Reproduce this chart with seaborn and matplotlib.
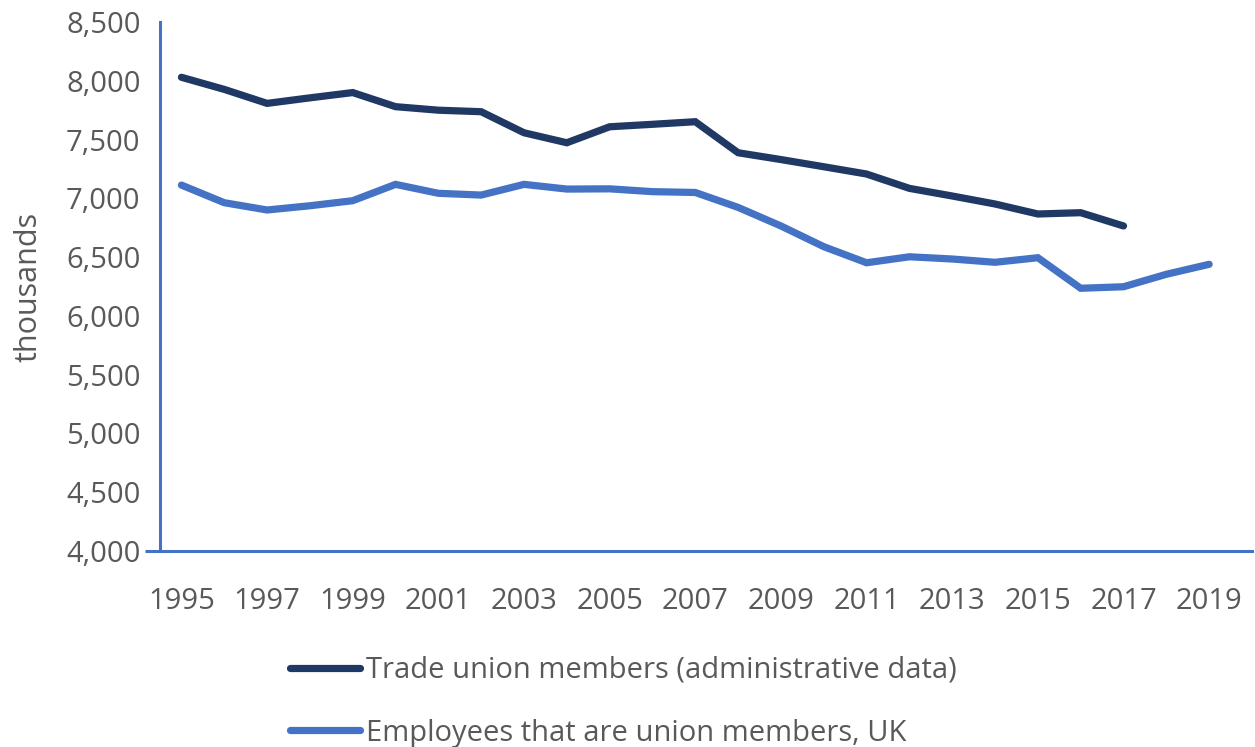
import numpy as np
import pandas as pd
import matplotlib.pyplot as plt
import seaborn as sns

# Data (thousands)
years = list(range(1995, 2020))
admin_members = [8030, 7927, 7808, 7855, 7900, 7780, 7750, 7737, 7558, 7473,
                 7609, 7630, 7652, 7388, 7330, 7269, 7207, 7085, 7020, 6952,
                 6867, 6878, 6765, np.nan, np.nan]
employee_members = [7113, 6963, 6901, 6937, 6980, 7119, 7043, 7028, 7119, 7079,
                    7081, 7057, 7050, 6923, 6765, 6589, 6452, 6503, 6484, 6456,
                    6495, 6235, 6248, 6354, 6439]
series_names = ['Trade union members (administrative data)',
                'Employees that are union members, UK']
xtick_years = list(range(1995, 2020, 2))
yticks = list(range(4000, 8501, 500))

df = pd.DataFrame({'year': years,
                   series_names[0]: admin_members,
                   series_names[1]: employee_members})
long = df.melt(id_vars='year', var_name='series', value_name='value').dropna()

sns.set_style('white')
plt.rcParams['font.family'] = ['Open Sans', 'DejaVu Sans']

blue = '#4472C4'
navy = '#1F3864'
grey = '#595959'

fig = plt.figure(figsize=(12.55, 7.47), dpi=100)
ax = fig.add_axes([0.1275, 0.2624, 0.8701, 0.7081])

sns.lineplot(data=long, x='year', y='value', hue='series',
             hue_order=series_names, palette=[navy, blue],
             linewidth=5.2, ax=ax, legend=False,
             solid_capstyle='round', solid_joinstyle='miter')

ax.set_xlim(1994.5, 2020.0)
ax.set_ylim(4000, 8500)
ax.set_xticks(xtick_years)
ax.set_yticks(yticks)
ax.set_yticklabels([f'{v:,}' for v in yticks])
ax.tick_params(axis='both', colors=grey, labelsize=21)
ax.tick_params(axis='y', length=8, width=2, color=blue, direction='out', pad=6)
ax.tick_params(axis='x', length=0, pad=26)

for s in ['top', 'right']:
    ax.spines[s].set_visible(False)
for s in ['left', 'bottom']:
    ax.spines[s].set_color(blue)
    ax.spines[s].set_linewidth(2.2)

# the category axis line runs a little past the value axis on the left
ax.plot([-0.014, 0], [0, 0], transform=ax.transAxes, color=blue,
        linewidth=2.2, clip_on=False, solid_capstyle='butt')

ax.set_xlabel('')
ax.set_ylabel('thousands', fontsize=22, color=grey, labelpad=16)

handles = [plt.Line2D([], [], color=c, linewidth=5.2, solid_capstyle='round')
           for c in [navy, blue]]
fig.legend(handles, series_names, loc='upper left',
           bbox_to_anchor=(0.21, 0.157), frameon=False,
           fontsize=21, labelcolor=grey, handlelength=2.4, handletextpad=0.2,
           labelspacing=1.15)

fig.savefig('out.png', dpi=100)
